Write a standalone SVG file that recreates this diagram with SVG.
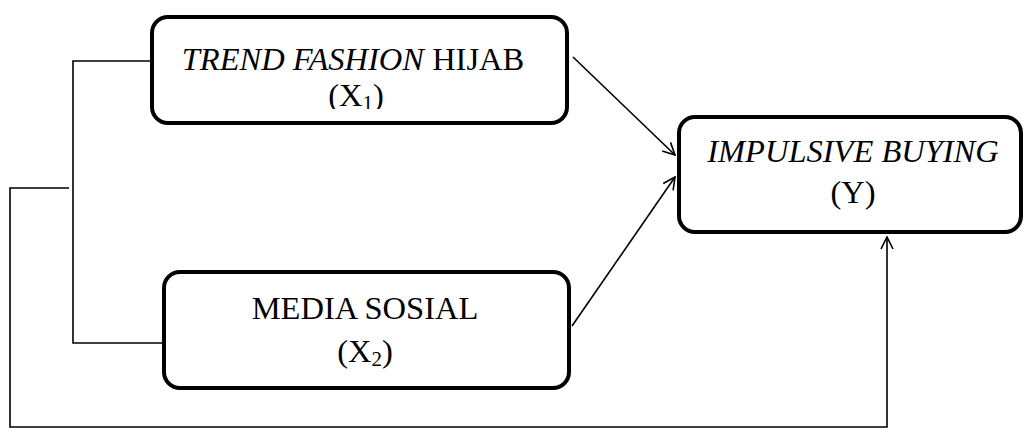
<svg xmlns="http://www.w3.org/2000/svg" width="1025" height="428" viewBox="0 0 1025 428">
<defs>
<style>
.box{fill:#fff;stroke:#000;stroke-width:4}
.t{font-family:"Liberation Serif","Times New Roman",serif;font-size:32.5px;fill:#000;text-anchor:middle}
.i{font-style:italic}
.sub{font-size:21px}
.ln{fill:none;stroke:#000;stroke-width:1.6}
</style>
<clipPath id="clip1"><rect x="152" y="17" width="415" height="92"/></clipPath>
<marker id="arr" viewBox="0 0 14 14" refX="13" refY="7" markerWidth="14" markerHeight="14" markerUnits="userSpaceOnUse" orient="auto">
<path d="M1,1 L13,7 L1,13" fill="none" stroke="#000" stroke-width="1.6"/>
</marker>
</defs>
<g id="connectors">
<polyline class="ln" points="151,61 73,61 73,343 162,343"/>
<polyline class="ln" points="69,188 10,188 10,427 887,427 887,237" marker-end="url(#arr)"/>
<line class="ln" x1="573" y1="57" x2="675" y2="155" marker-end="url(#arr)"/>
<line class="ln" x1="572" y1="326" x2="675" y2="177" marker-end="url(#arr)"/>
</g>
<g id="x1">
<rect class="box" x="152" y="17" width="415" height="106" rx="16"/>
<text class="t" x="353" y="70"><tspan class="i">TREND FASHION</tspan> HIJAB</text>
<text class="t" x="356" y="105.5" clip-path="url(#clip1)">(X<tspan class="sub" dy="4">1</tspan><tspan dy="-4">)</tspan></text>
</g>
<g id="x2">
<rect class="box" x="164" y="272" width="405" height="116" rx="16"/>
<text class="t" x="365" y="319">MEDIA SOSIAL</text>
<text class="t" x="365" y="362">(X<tspan class="sub" dy="4">2</tspan><tspan dy="-4">)</tspan></text>
</g>
<g id="y">
<rect class="box" x="679" y="117" width="342" height="115" rx="16"/>
<text class="t i" x="853" y="162">IMPULSIVE BUYING</text>
<text class="t" x="853" y="203">(Y)</text>
</g>
</svg>
